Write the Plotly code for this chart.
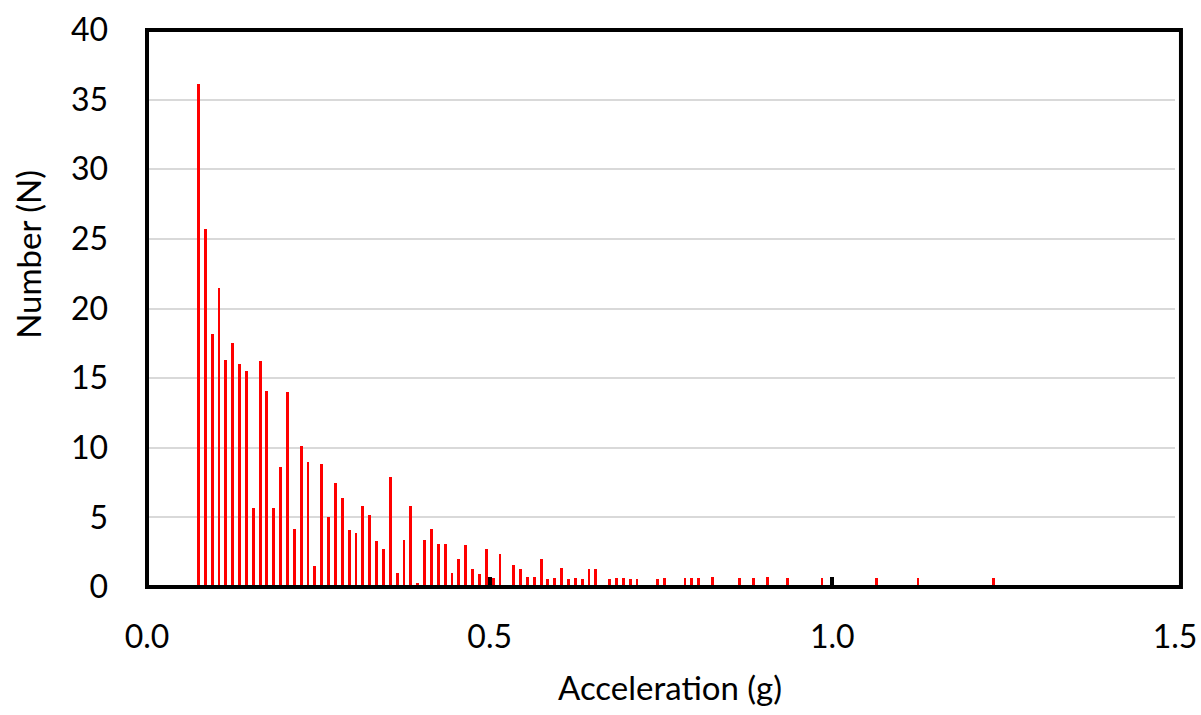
import plotly.graph_objects as go

# Bin centres (g) and counts
acceleration = [
    0.075, 0.085, 0.095, 0.105, 0.115, 0.125, 0.135, 0.145, 0.155, 0.165,
    0.175, 0.185, 0.195, 0.205, 0.215, 0.225, 0.235, 0.245, 0.255, 0.265,
    0.275, 0.285, 0.295, 0.305, 0.315, 0.325, 0.335, 0.345, 0.355, 0.365,
    0.375, 0.385, 0.395, 0.405, 0.415, 0.425, 0.435, 0.445, 0.455, 0.465,
    0.475, 0.485, 0.495, 0.505, 0.515, 0.535, 0.545, 0.555, 0.565, 0.575,
    0.585, 0.595, 0.605, 0.615, 0.625, 0.635, 0.645, 0.655, 0.675, 0.685,
    0.695, 0.705, 0.715, 0.745, 0.755, 0.785, 0.795, 0.805, 0.825, 0.865,
    0.885, 0.905, 0.935, 0.985, 1.065, 1.125, 1.235,
]
number = [
    36.1, 25.7, 18.2, 21.5, 16.3, 17.5, 16.0, 15.5, 5.7, 16.2,
    14.1, 5.7, 8.6, 14.0, 4.2, 10.1, 9.0, 1.5, 8.8, 5.0,
    7.5, 6.4, 4.1, 3.9, 5.8, 5.2, 3.3, 2.7, 7.9, 1.0,
    3.4, 5.8, 0.3, 3.4, 4.2, 3.1, 3.1, 1.0, 2.0, 3.0,
    1.3, 0.9, 2.7, 0.65, 2.4, 1.6, 1.3, 0.7, 0.7, 2.0,
    0.6, 0.65, 1.4, 0.6, 0.65, 0.6, 1.3, 1.3, 0.6, 0.65,
    0.65, 0.6, 0.6, 0.6, 0.65, 0.65, 0.65, 0.65, 0.7, 0.65,
    0.65, 0.7, 0.65, 0.65, 0.65, 0.65, 0.65,
]

x_ticks = [0.0, 0.5, 1.0, 1.5]
x_tick_labels = ["0.0", "0.5", "1.0", "1.5"]
y_ticks = [0, 5, 10, 15, 20, 25, 30, 35, 40]

FONT = "Lato"

fig = go.Figure()
fig.add_trace(go.Bar(
    x=acceleration,
    y=number,
    width=0.0042,
    marker=dict(color="#FF0000", line=dict(width=0)),
    showlegend=False,
))

fig.update_layout(
    width=1201,
    height=715,
    margin=dict(l=147, r=26, t=30, b=128),
    paper_bgcolor="white",
    plot_bgcolor="white",
    font=dict(family=FONT, size=32, color="#000000"),
    bargap=0,
    xaxis=dict(
        range=[0, 1.5],
        tickmode="array",
        tickvals=x_ticks,
        ticktext=x_tick_labels,
        ticks="inside",
        ticklen=10,
        tickwidth=4,
        tickcolor="#000000",
        showgrid=False,
        zeroline=False,
        showline=False,
        automargin=False,
        ticklabeloverflow="allow",
        ticklabelstandoff=28,
        tickfont=dict(family=FONT, size=32, color="#000000"),
    ),
    yaxis=dict(
        range=[0, 40],
        tickmode="array",
        tickvals=y_ticks,
        ticks="",
        showgrid=True,
        gridcolor="#D9D9D9",
        gridwidth=1.5,
        zeroline=False,
        showline=False,
        automargin=False,
        ticklabelstandoff=38,
        tickfont=dict(family=FONT, size=32, color="#000000"),
    ),
    shapes=[
        dict(type="rect", xref="paper", yref="paper",
             x0=0, x1=1.0058, y0=0, y1=1,
             line=dict(color="#000000", width=4), layer="above"),
    ],
    annotations=[
        dict(text="Acceleration (g)", xref="paper", yref="paper",
             x=0.509, y=-0.18, xanchor="center", yanchor="middle",
             showarrow=False, font=dict(family=FONT, size=33, color="#000000")),
        dict(text="Number (N)", xref="paper", yref="paper",
             x=-0.1158, y=0.598, xanchor="center", yanchor="middle",
             textangle=-90, showarrow=False,
             font=dict(family=FONT, size=33, color="#000000")),
    ],
)

fig.write_html(
    "out.html",
    config={"displayModeBar": False},
    post_script="document.body.style.margin='0';document.body.style.overflow='hidden';",
)
